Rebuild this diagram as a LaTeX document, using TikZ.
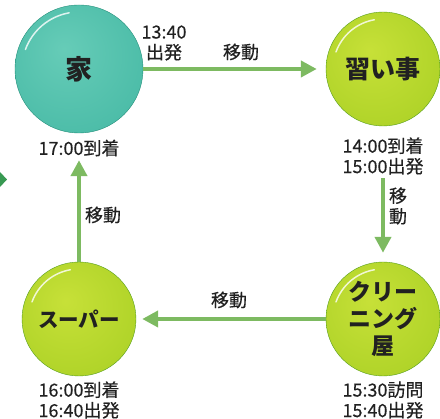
\documentclass[tikz,border=0pt]{standalone}
\usepackage{fontspec}
\setmainfont{Noto Sans CJK JP}
\newfontfamily\labelfont[FakeBold = 0.4]{Noto Sans CJK JP}
\usetikzlibrary{arrows.meta}
\usetikzlibrary{positioning}
\definecolor{mteal}{rgb}{0.14, 0.56, 0.48}
\definecolor{mgreen}{rgb}{0.34, 0.62, 0.12}
\definecolor{marrow}{rgb}{0.49, 0.73, 0.38}
\definecolor{mdark}{rgb}{0.22, 0.60, 0.32}
\definecolor{mtext}{rgb}{0.13, 0.13, 0.13}
\pgfdeclareradialshading{tealball}{\pgfpoint{-6bp}{8bp}}{rgb(0bp)=(0.40,0.80,0.72); rgb(30bp)=(0.30,0.74,0.66); rgb(46bp)=(0.21,0.65,0.56); rgb(60bp)=(0.12,0.54,0.45)}
\pgfdeclareradialshading{greenball}{\pgfpoint{-6bp}{8bp}}{rgb(0bp)=(0.78,0.88,0.22); rgb(30bp)=(0.69,0.83,0.16); rgb(46bp)=(0.52,0.73,0.12); rgb(60bp)=(0.34,0.62,0.10)}
\tikzset{place/.style = {circle, inner sep = 0, text = mtext, align = center}}
\tikzset{homeball/.style = {place, shading = tealball, draw = mteal, minimum size = 128}}
\tikzset{stopball/.style = {place, shading = greenball, draw = mgreen, minimum size = 114}}
\tikzset{move/.style = {marrow, line width = 4pt, -{Triangle[length = 16pt, width = 16pt]}}}
\tikzset{timetext/.style = {text = mtext, align = center, font = \labelfont\fontsize{18}{20.5}\selectfont}}
\tikzset{shine/.style = {white, line width = 1.5pt, line cap = round, opacity = 0.8}}

\begin{document}
\begin{tikzpicture}[x = 1pt, y = 1pt]
    \useasboundingbox (0, 0) rectangle (440, 419);

    \node [homeball, font = \fontsize{27}{30}\selectfont\bfseries] (home) at (79, 350) {家};
    \node [stopball, font = \fontsize{25}{28}\selectfont\bfseries] (lesson) at (383, 350) {習い事};
    \node [stopball, font = \fontsize{20.5}{24}\selectfont\bfseries] (super) at (79, 100) {スーパー};
    \node [stopball, font = \fontsize{23}{27}\selectfont\bfseries] (clean) at (383, 100) {クリー\\ニング\\屋};

    \draw [shine] (home.center) ++(100:57) arc [start angle = 100, end angle = 160, radius = 57];
    \foreach \n in {lesson, super, clean}
      \draw [shine] (\n.center) ++(100:50) arc [start angle = 100, end angle = 160, radius = 50];

    \draw [move, shorten > = 9pt] (home) -- (lesson);
    \draw [move, shorten < = 52pt, shorten > = 9pt] (lesson) -- (clean);
    \draw [move, shorten > = 6pt] (clean) -- (super);
    \draw [move, shorten > = 27pt] (super) -- (home);

    \node [timetext] (homeout) at (164, 376) {13:40\\出発};
    \node [timetext] (homein) at (79, 271) {17:00到着};
    \node [timetext] (lessontime) at (383, 263) {14:00到着\\15:00出発};
    \node [timetext] (supertime) at (79, 19) {16:00到着\\16:40出発};
    \node [timetext] (cleantime) at (383, 19) {15:30訪問\\15:40出発};

    \node [timetext] (movetop) at (241, 367) {移動};
    \node [timetext] (moveright) at (398, 213) {移\\動};
    \node [timetext] (movebottom) at (229, 119) {移動};
    \node [timetext] (moveleft) at (103, 204) {移動};

    \fill [mdark] (0, 247) -- (7, 239.5) -- (0, 232) -- cycle;
  \end{tikzpicture}
\end{document}
